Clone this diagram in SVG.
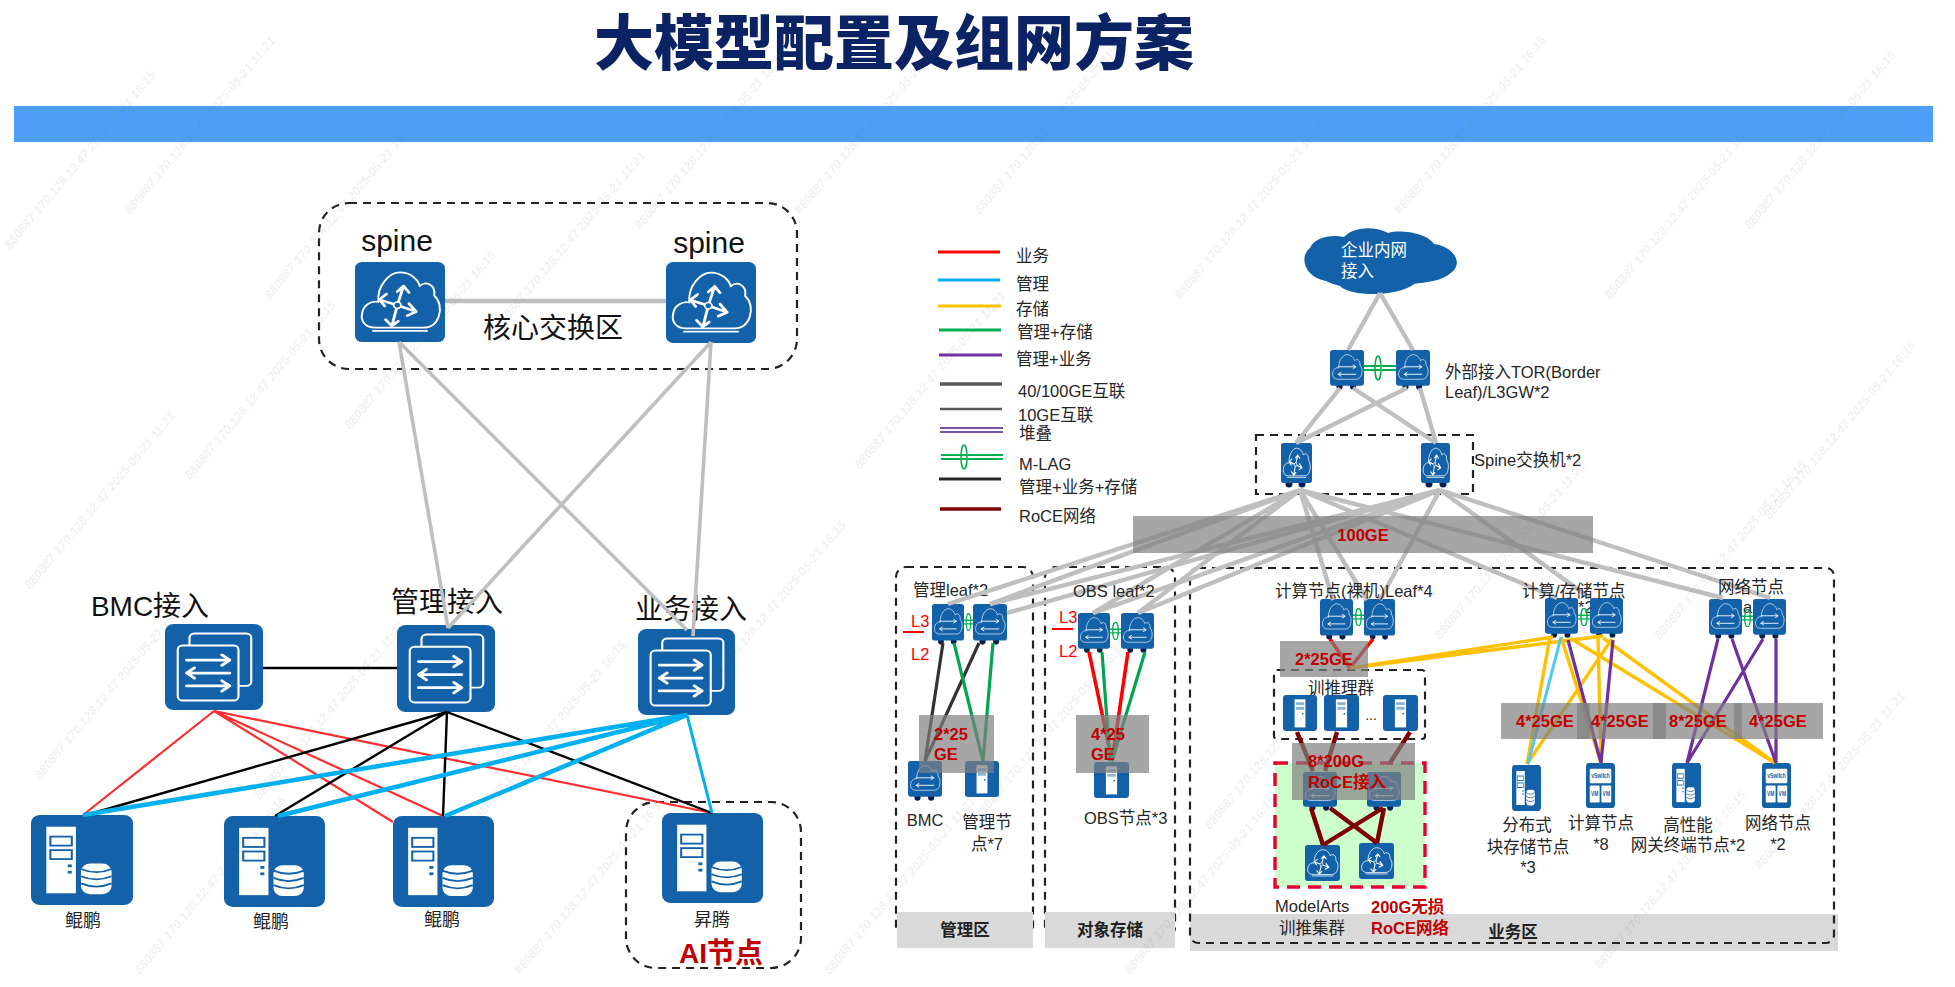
<svg xmlns="http://www.w3.org/2000/svg" xmlns:xlink="http://www.w3.org/1999/xlink" width="1955" height="987" viewBox="0 0 1955 987">
<style>
text{font-family:"Liberation Sans","Noto Sans CJK SC",sans-serif;fill:#262626}
.t16{font-size:16.5px}
.mid{text-anchor:middle}
.lg{font-size:28px;fill:#111}
.sm{font-size:18px;fill:#222}
.rb{font-size:16.5px;font-weight:700;fill:#c00000}
.rt{font-size:16.5px;fill:#ff0000}
.ft{font-size:16.5px;font-weight:700;fill:#222}
.dash{fill:none;stroke:#222;stroke-width:2.2;stroke-dasharray:8 6}
.foot{fill:#d9d9d9}
.band{fill:#808080;fill-opacity:.7}
.gray{stroke:#bfbfbf;stroke-width:4.4;fill:none}
.red{stroke:#ff2d2d;stroke-width:2.2}
.blk{stroke:#000;stroke-width:2.4}
.cy{stroke:#00b0f0;stroke-width:4.5}
.k3{stroke:#333;stroke-width:3.2}
.gn{stroke:#00a550;stroke-width:3.2}
.r3{stroke:#ff0000;stroke-width:3.6}
.y3{stroke:#ffc000;stroke-width:3.4}
.pu{stroke:#7030a0;stroke-width:3.2}
.dr{stroke:#7f0000;stroke-width:4.4}
.ic{fill:#1261a9}
.wl{fill:none;stroke:#fff;stroke-width:2.2;stroke-linecap:round;stroke-linejoin:round}
.wa{fill:none;stroke:#fff;stroke-width:3.2;stroke-linecap:round;stroke-linejoin:round}
.wf{fill:#fff}
.ft1{fill:#0b1f4f}
.wm{font-size:12.5px;font-style:italic;font-weight:700;fill:#777;fill-opacity:.11}
</style>
<defs>
<path id="cloud" d="M22 82C10 82 6 72 8 64C9 54 18 48 26 50C24 30 38 13 50 13C62 13 70 22 72 30C78 23 90 28 88 42C94 48 96 58 93 68C90 78 84 82 76 82Z"/>
<symbol id="router" viewBox="0 0 100 100" preserveAspectRatio="none">
<rect class="ic" width="100" height="100" rx="8"/>
<use href="#cloud" class="wl"/>
<path class="wl" d="M20 86H80"/>
<path class="wa" d="M47 54L54 30M47 37L54 30L60 38M47 54L41 80M34 72L41 80L48 74M47 54L68 62M60 52L68 62L58 67M47 54L27 47M35 40L27 47L33 55"/>
<circle cx="47" cy="54" r="4" fill="#1261a9" stroke="#fff" stroke-width="2"/>
</symbol>
<symbol id="stack" viewBox="0 0 100 100" preserveAspectRatio="none">
<rect class="ic" width="100" height="100" rx="9"/>
<rect class="wl" x="25" y="11" width="63" height="61" rx="5"/>
<rect class="ic" x="13" y="25" width="62" height="64" rx="5"/>
<rect class="wl" x="13" y="25" width="62" height="64" rx="5"/>
<path class="wa" d="M22 42H66M58 36L66 42L58 48M66 57H22M30 51L22 57L30 63M22 72H66M58 66L66 72L58 78"/>
</symbol>
<symbol id="srvdb" viewBox="0 0 100 100" preserveAspectRatio="none">
<rect class="ic" width="100" height="100" rx="9"/>
<rect class="wf" x="15" y="13" width="29" height="74"/>
<rect fill="none" stroke="#1261a9" stroke-width="2" x="19" y="24" width="21" height="10"/>
<rect fill="none" stroke="#1261a9" stroke-width="2" x="19" y="39" width="21" height="10"/>
<rect class="ic" x="36" y="55" width="4" height="3"/><rect class="ic" x="36" y="62" width="4" height="3"/>
<rect class="wf" x="49" y="54" width="30" height="34" rx="9"/>
<path fill="none" stroke="#1261a9" stroke-width="2" d="M49 60Q64 67 79 60M49 68Q64 75 79 68M49 76Q64 83 79 76"/>
</symbol>
<symbol id="leaf" viewBox="0 0 100 112" preserveAspectRatio="none">
<circle class="ft1" cx="28" cy="102" r="9"/><circle class="ft1" cx="68" cy="102" r="9"/>
<rect class="ic" width="100" height="100" rx="8"/>
<use href="#cloud" class="wl" style="stroke:#d5e4f2"/>
<path class="wa" style="stroke-width:2.6" d="M24 47H76M68 42L76 47L68 52M76 68H24M32 63L24 68L32 73"/>
</symbol>
<symbol id="tower" viewBox="0 0 100 100" preserveAspectRatio="none">
<rect class="ic" width="100" height="100" rx="9"/>
<rect class="wf" x="34" y="12" width="32" height="78"/>
<rect fill="#8eb4d8" x="38" y="20" width="24" height="8"/><rect fill="#8eb4d8" x="38" y="33" width="24" height="8"/>
<rect class="ic" x="56" y="50" width="4" height="4"/>
</symbol>
<symbol id="vsw" viewBox="0 0 100 100" preserveAspectRatio="none">
<rect class="ic" width="100" height="100" rx="9"/>
<rect class="wf" x="13" y="13" width="74" height="32" rx="3"/>
<rect class="wf" x="13" y="50" width="34" height="38" rx="3"/>
<rect class="wf" x="53" y="50" width="34" height="38" rx="3"/>
<text x="50" y="34" font-size="17" text-anchor="middle" style="fill:#1261a9;font-weight:700">vSwitch</text>
<text x="30" y="74" font-size="17" text-anchor="middle" style="fill:#1261a9;font-weight:700">VM</text>
<text x="70" y="74" font-size="17" text-anchor="middle" style="fill:#1261a9;font-weight:700">VM</text>
</symbol>
<symbol id="mlag" viewBox="0 0 12 20" preserveAspectRatio="none">
<path d="M0 8H12M0 12H12M6 .5C10 .5 10 19.5 6 19.5C2 19.5 2 .5 6 .5Z" fill="none" stroke="#00b050" stroke-width="1.5"/>
</symbol>
</defs>

<rect width="1955" height="987" fill="#fff"/>
<g id="header">
<rect x="14" y="106" width="1919" height="36" fill="#4c9ff5"/>
<text x="894" y="65" text-anchor="middle" style="font-size:60px;font-weight:900;fill:#0b2265;font-family:'Noto Sans CJK SC',sans-serif">大模型配置及组网方案</text>
</g>

<g id="zones">
<rect class="dash" x="319" y="203" width="478" height="166" rx="30"/>
<rect class="dash" x="626" y="802" width="175" height="166" rx="30"/>
<rect class="dash" x="896" y="567" width="137" height="370" rx="10"/>
<rect class="dash" x="1045" y="567" width="130" height="370" rx="10"/>
<rect class="foot" x="1190" y="914" width="648" height="37"/>
<rect class="dash" x="1190" y="568" width="644" height="375" rx="8"/>
<rect class="foot" x="897" y="912" width="136" height="36"/>
<rect class="foot" x="1045" y="912" width="130" height="36"/>
<rect x="1275" y="763" width="150" height="124" fill="#ccffcc" stroke="#e6002d" stroke-width="3.4" stroke-dasharray="13 8"/>
<rect class="dash" x="1274" y="670" width="151" height="69" rx="3"/>
<rect class="dash" x="1256" y="435" width="217" height="59" stroke-width="2.6"/>
<text class="ft mid" x="965" y="936">管理区</text>
<text class="ft mid" x="1110" y="936">对象存储</text>
<text class="ft mid" x="1513" y="938">业务区</text>
<text class="t16" x="913" y="596">管理leaf*2</text>
<text class="t16" x="1578" y="613">*2</text>
<text class="t16" x="1743" y="613">a</text>
<text class="rt" x="911" y="627">L3</text>
<text class="rt" x="911" y="660">L2</text>
<text class="rt" x="1059" y="623">L3</text>
<text class="rt" x="1059" y="657">L2</text>
<path d="M903 632H924M1052 629H1073" stroke="#ff0000" stroke-width="2" fill="none"/>
</g>

<g id="legend">
<path d="M938 252H1000" stroke="#ff0000" stroke-width="3"/><text class="t16" x="1016" y="262">业务</text>
<path d="M938 280H1000" stroke="#00b0f0" stroke-width="3"/><text class="t16" x="1016" y="290">管理</text>
<path d="M938 306H1001" stroke="#ffc000" stroke-width="3"/><text class="t16" x="1016" y="315">存储</text>
<path d="M939 330H1001" stroke="#00b050" stroke-width="3"/><text class="t16" x="1017" y="338">管理+存储</text>
<path d="M939 355H1002" stroke="#7030a0" stroke-width="3"/><text class="t16" x="1016" y="365">管理+业务</text>
<path d="M940 384H1002" stroke="#595959" stroke-width="3.4"/><text class="t16" x="1018" y="397">40/100GE互联</text>
<path d="M940 409H1002" stroke="#595959" stroke-width="2.6"/><text class="t16" x="1018" y="421">10GE互联</text>
<path d="M940 428H1003M940 432H1003" stroke="#7a52ab" stroke-width="1.8"/><text class="t16" x="1019" y="439">堆叠</text>
<path d="M941 455H1003M941 459H1003" stroke="#00b050" stroke-width="2.2"/><ellipse cx="964" cy="457" rx="3" ry="12" fill="none" stroke="#00b050" stroke-width="1.5"/><text class="t16" x="1019" y="470">M-LAG</text>
<path d="M939 479H1001" stroke="#262626" stroke-width="3"/><text class="t16" x="1019" y="493">管理+业务+存储</text>
<path d="M940 509H1001" stroke="#7f0000" stroke-width="3.4"/><text class="t16" x="1019" y="522">RoCE网络</text>
</g>

<g id="nodes">
<g id="core-spine-1"><text x="397" y="251" class="mid" style="font-size:30px;fill:#111">spine</text><use href="#router" x="355" y="262" width="90" height="80"/></g>
<g id="core-spine-2"><text x="709" y="253" class="mid" style="font-size:30px;fill:#111">spine</text><use href="#router" x="666" y="262" width="90" height="81"/></g>
<g id="core-label"><text x="553" y="338" class="mid lg">核心交换区</text></g>
<g id="bmc-access"><text x="150" y="616" class="mid lg">BMC接入</text><use href="#stack" x="165" y="624" width="98" height="86"/></g>
<g id="mgmt-access"><text x="447" y="612" class="mid lg">管理接入</text><use href="#stack" x="397" y="625" width="98" height="87"/></g>
<g id="biz-access"><text x="691" y="619" class="mid lg">业务接入</text><use href="#stack" x="638" y="629" width="97" height="86"/></g>
<g id="kunpeng-1"><use href="#srvdb" x="31" y="815" width="102" height="90"/><text x="83" y="927" class="mid sm">鲲鹏</text></g>
<g id="kunpeng-2"><use href="#srvdb" x="224" y="816" width="101" height="91"/><text x="271" y="928" class="mid sm">鲲鹏</text></g>
<g id="kunpeng-3"><use href="#srvdb" x="393" y="816" width="101" height="91"/><text x="442" y="926" class="mid sm">鲲鹏</text></g>
<g id="ascend"><use href="#srvdb" x="662" y="813" width="101" height="90"/><text x="712" y="926" class="mid sm">昇腾</text><text x="721" y="963" class="mid" style="font-size:28px;font-weight:700;fill:#c00000">AI节点</text></g>

<g id="cloud-intranet">
<path class="ic" d="M1326 281C1306 278 1298 258 1310 248C1314 238 1330 234 1344 237C1354 226 1376 226 1388 233C1402 229 1428 234 1434 244C1452 246 1464 262 1452 272C1442 282 1424 282 1414 284C1400 296 1352 298 1340 286C1336 285 1330 283 1326 281Z"/>
<text x="1341" y="256" class="t16" style="fill:#fff">企业内网</text><text x="1341" y="277" class="t16" style="fill:#fff">接入</text>
</g>
<g id="tor-1"><use href="#leaf" x="1330" y="350" width="34" height="40"/></g>
<g id="tor-2"><use href="#leaf" x="1396" y="350" width="34" height="40"/></g>
<g id="tor-label"><text class="t16" x="1445" y="378">外部接入TOR(Border</text><text class="t16" x="1445" y="398">Leaf)/L3GW*2</text></g>
<g id="spine-1"><circle class="ft1" cx="1289" cy="484" r="3.5"/><circle class="ft1" cx="1302" cy="484" r="3.5"/><use href="#router" x="1281" y="443" width="31" height="40"/></g>
<g id="spine-2"><circle class="ft1" cx="1429" cy="484" r="3.5"/><circle class="ft1" cx="1443" cy="484" r="3.5"/><use href="#router" x="1421" y="443" width="29" height="40"/></g>
<g id="spine-label"><text class="t16" x="1474" y="466">Spine交换机*2</text></g>

<g id="mgmt-leaf-1"><use href="#leaf" x="932" y="604" width="32" height="41"/></g>
<g id="mgmt-leaf-2"><use href="#leaf" x="973" y="604" width="34" height="41"/></g>
<g id="obs-leaf-1"><use href="#leaf" x="1078" y="613" width="32" height="40"/></g>
<g id="obs-leaf-2"><use href="#leaf" x="1121" y="613" width="33" height="40"/></g>
<g id="bmc"><use href="#leaf" x="908" y="761" width="34" height="40"/><text class="t16 mid" x="925" y="826">BMC</text></g>
<g id="mgmt-node"><use href="#tower" x="965" y="761" width="34" height="36"/><text class="t16 mid" x="987" y="828">管理节</text><text class="t16 mid" x="987" y="850">点*7</text></g>
<g id="obs-node"><use href="#tower" x="1094" y="762" width="35" height="36"/><text class="t16" x="1084" y="824">OBS节点*3</text></g>

<g id="comp-leaf-1"><use href="#leaf" x="1320" y="599" width="33" height="41"/></g>
<g id="comp-leaf-2"><use href="#leaf" x="1364" y="599" width="31" height="41"/></g>
<g id="train-cluster"><text class="t16 mid" x="1341" y="694">训推理群</text>
<use href="#tower" x="1283" y="695" width="34" height="36"/><use href="#tower" x="1324" y="695" width="35" height="36"/><use href="#tower" x="1383" y="695" width="35" height="36"/>
<text class="mid" x="1371" y="720" style="font-size:14px">...</text></g>
<g id="roce-leaf-1"><use href="#leaf" x="1303" y="772" width="34" height="39"/></g>
<g id="roce-leaf-2"><use href="#leaf" x="1367" y="772" width="34" height="39"/></g>
<g id="roce-spine-1"><use href="#router" x="1305" y="845" width="35" height="36"/></g>
<g id="roce-spine-2"><use href="#router" x="1359" y="843" width="35" height="36"/></g>
<g id="modelarts"><text class="t16" x="1275" y="912">ModelArts</text><text class="t16" x="1279" y="934">训推集群</text></g>
<g id="roce-label"><text class="rb" x="1371" y="913">200G无损</text><text class="rb" x="1371" y="934">RoCE网络</text></g>

<g id="calc-leaf-1"><use href="#leaf" x="1545" y="598" width="33" height="40"/></g>
<g id="calc-leaf-2"><use href="#leaf" x="1590" y="598" width="33" height="40"/></g>
<g id="net-leaf-1"><use href="#leaf" x="1709" y="599" width="33" height="40"/></g>
<g id="net-leaf-2"><use href="#leaf" x="1753" y="599" width="33" height="40"/></g>
<g id="block-node"><use href="#srvdb" x="1512" y="765" width="29" height="46"/><text class="t16 mid" x="1527" y="831">分布式</text><text class="t16 mid" x="1528" y="853">块存储节点</text><text class="t16 mid" x="1528" y="873">*3</text></g>
<g id="compute-node"><use href="#vsw" x="1586" y="763" width="29" height="45"/><text class="t16 mid" x="1601" y="829">计算节点</text><text class="t16 mid" x="1601" y="850">*8</text></g>
<g id="gateway-node"><use href="#srvdb" x="1672" y="763" width="29" height="45"/><text class="t16 mid" x="1688" y="831">高性能</text><text class="t16 mid" x="1688" y="851">网关终端节点*2</text></g>
<g id="network-node"><use href="#vsw" x="1762" y="763" width="29" height="45"/><text class="t16 mid" x="1778" y="829">网络节点</text><text class="t16 mid" x="1778" y="850">*2</text></g>
</g>

<g id="connectors">
<g class="gray">
<path d="M445 301H666"/>
<path d="M399 342L448 628M711 342L448 628M399 342L687 630M711 342L693 636" stroke-width="3.6"/>
</g>
<path class="blk" d="M263 668H397" stroke-width="3"/>
<g fill="none">
<path class="red" d="M214 711L83 815M214 711L393 822M214 711L443 816M214 711L712 813"/>
<path class="blk" d="M447 712L86 815M447 712L275 816M447 712L443 816M447 712L712 813"/>
<path class="cy" d="M687 715L83 815M687 715L278 816M687 715L445 816"/>
<path d="M687 715L712 813" stroke="#00b0f0" stroke-width="3"/>
</g>
<g class="gray">
<path d="M1380 293L1348 350M1380 293L1413 350"/>
<path d="M1340 388L1296 443M1353 388L1436 443M1407 388L1296 443M1420 388L1436 443"/>
<path d="M1300 490L948 604M1300 490L990 604M1300 490L1093 613M1300 490L1138 613M1300 490L1333 600M1300 490L1367 600M1300 490L1557 598M1300 490L1723 598"/>
<path d="M1440 490L1007 613M1440 490L990 604M1440 490L1093 613M1440 490L1138 613M1440 490L1380 600M1440 490L1590 598M1440 490L1770 598"/>
</g>
<use href="#mlag" x="964" y="613" width="9" height="18"/>
<use href="#mlag" x="1110" y="622" width="11" height="18"/>
<use href="#mlag" x="1353" y="608" width="11" height="18"/>
<use href="#mlag" x="1578" y="608" width="12" height="18"/>
<use href="#mlag" x="1742" y="609" width="11" height="18"/>
<path d="M1364 366H1396M1364 370H1396" stroke="#00b050" stroke-width="2.2"/>
<ellipse cx="1378" cy="368" rx="3" ry="12" fill="none" stroke="#00b050" stroke-width="1.5"/>
<g fill="none">
<path class="k3" d="M943 643L925 761M979 643L925 761"/>
<path class="gn" d="M954 643L983 761M993 643L983 761"/>
<path class="r3" d="M1089 652L1112 761M1128 652L1112 761"/>
<path class="gn" d="M1102 652L1110 761M1145 652L1112 761"/>
<path class="r3" d="M1330 639L1350 668M1373 639L1350 668"/>
<path class="dr" d="M1297 732L1313 771M1337 732L1325 771M1410 732L1390 763"/>
<path class="dr" d="M1311 808L1323 845M1330 808L1377 843M1383 808L1323 845M1384 808L1377 843"/>
<path class="y3" d="M1350 668L1553 637M1350 668L1603 636"/>
<path class="y3" d="M1550 637L1527 764M1561 637L1601 763M1598 637L1601 763M1612 639L1527 764M1570 638L1775 763M1603 638L1775 763"/>
<path d="M1561 637L1528 764" stroke="#4dc9f5" stroke-width="3"/>
<path class="pu" d="M1568 640L1601 763M1613 640L1601 763"/>
<path class="pu" d="M1718 639L1687 763M1732 639L1776 763M1763 639L1687 763M1776 639L1776 763"/>
</g>
</g>

<g id="leaf-labels">
<text class="t16" x="1073" y="597">OBS leaf*2</text>
<text class="t16" x="1275" y="597">计算节点(裸机)Leaf*4</text>
<text class="t16" x="1522" y="597">计算/存储节点</text>
<text class="t16 mid" x="1751" y="593">网络节点</text>
</g>

<g id="bands">
<rect class="band" x="1133" y="516" width="460" height="37"/>
<rect class="band" x="919" y="715" width="75" height="58"/>
<rect class="band" x="1076" y="715" width="73" height="58"/>
<rect class="band" x="1280" y="641" width="88" height="36"/>
<rect class="band" x="1292" y="743" width="123" height="57"/>
<rect class="band" x="1501" y="703" width="89" height="36"/>
<rect class="band" x="1577" y="703" width="89" height="36"/>
<rect class="band" x="1653" y="703" width="89" height="36"/>
<rect class="band" x="1734" y="703" width="89" height="36"/>
<text class="rb mid" x="1363" y="541">100GE</text>
<text class="rb" x="934" y="740">2*25</text><text class="rb" x="934" y="760">GE</text>
<text class="rb" x="1091" y="740">4*25</text><text class="rb" x="1091" y="760">GE</text>
<text class="rb" x="1295" y="665">2*25GE</text>
<text class="rb" x="1308" y="767">8*200G</text><text class="rb" x="1308" y="788">RoCE接入</text>
<text class="rb" x="1516" y="727">4*25GE</text><text class="rb" x="1591" y="727">4*25GE</text><text class="rb" x="1669" y="727">8*25GE</text><text class="rb" x="1749" y="727">4*25GE</text>
</g>

<g id="watermark">
<text class="wm" transform="translate(10 250) rotate(-50)">880887 170.128.12.47 2025-05-21 16:15</text>
<text class="wm" transform="translate(130 215) rotate(-50)">880887 170.128.12.47 2025-05-21 11:21</text>
<text class="wm" transform="translate(270 300) rotate(-50)">880887 170.128.12.47 2025-05-21 16:15</text>
<text class="wm" transform="translate(30 590) rotate(-50)">880887 170.128.12.47 2025-05-21 11:21</text>
<text class="wm" transform="translate(190 480) rotate(-50)">880887 170.128.12.47 2025-05-21 16:15</text>
<text class="wm" transform="translate(350 430) rotate(-50)">880887 170.128.12.47 2025-05-21 16:15</text>
<text class="wm" transform="translate(500 330) rotate(-50)">880887 170.128.12.47 2025-05-21 11:21</text>
<text class="wm" transform="translate(640 230) rotate(-50)">880887 170.128.12.47 2025-05-21 16:15</text>
<text class="wm" transform="translate(800 215) rotate(-50)">880887 170.128.12.47 2025-05-21 16:15</text>
<text class="wm" transform="translate(980 215) rotate(-50)">880887 170.128.12.47 2025-05-21 11:21</text>
<text class="wm" transform="translate(1180 300) rotate(-50)">880887 170.128.12.47 2025-05-21 16:15</text>
<text class="wm" transform="translate(1400 215) rotate(-50)">880887 170.128.12.47 2025-05-21 16:15</text>
<text class="wm" transform="translate(1610 300) rotate(-50)">880887 170.128.12.47 2025-05-21 11:21</text>
<text class="wm" transform="translate(1750 230) rotate(-50)">880887 170.128.12.47 2025-05-21 16:15</text>
<text class="wm" transform="translate(40 780) rotate(-50)">880887 170.128.12.47 2025-05-21 16:15</text>
<text class="wm" transform="translate(260 800) rotate(-50)">880887 170.128.12.47 2025-05-21 11:21</text>
<text class="wm" transform="translate(480 820) rotate(-50)">880887 170.128.12.47 2025-05-21 16:15</text>
<text class="wm" transform="translate(700 700) rotate(-50)">880887 170.128.12.47 2025-05-21 16:15</text>
<text class="wm" transform="translate(860 470) rotate(-50)">880887 170.128.12.47 2025-05-21 11:21</text>
<text class="wm" transform="translate(980 820) rotate(-50)">880887 170.128.12.47 2025-05-21 16:15</text>
<text class="wm" transform="translate(1210 830) rotate(-50)">880887 170.128.12.47 2025-05-21 16:15</text>
<text class="wm" transform="translate(1440 640) rotate(-50)">880887 170.128.12.47 2025-05-21 11:21</text>
<text class="wm" transform="translate(1660 640) rotate(-50)">880887 170.128.12.47 2025-05-21 16:15</text>
<text class="wm" transform="translate(1770 520) rotate(-50)">880887 170.128.12.47 2025-05-21 16:15</text>
<text class="wm" transform="translate(1600 970) rotate(-50)">880887 170.128.12.47 2025-05-21 16:15</text>
<text class="wm" transform="translate(1760 870) rotate(-50)">880887 170.128.12.47 2025-05-21 11:21</text>
<text class="wm" transform="translate(140 975) rotate(-50)">880887 170.128.12.47 2025-05-21 16:15</text>
<text class="wm" transform="translate(520 975) rotate(-50)">880887 170.128.12.47 2025-05-21 16:15</text>
<text class="wm" transform="translate(830 975) rotate(-50)">880887 170.128.12.47 2025-05-21 11:21</text>
<text class="wm" transform="translate(1130 975) rotate(-50)">880887 170.128.12.47 2025-05-21 16:15</text>
</g>
</svg>
